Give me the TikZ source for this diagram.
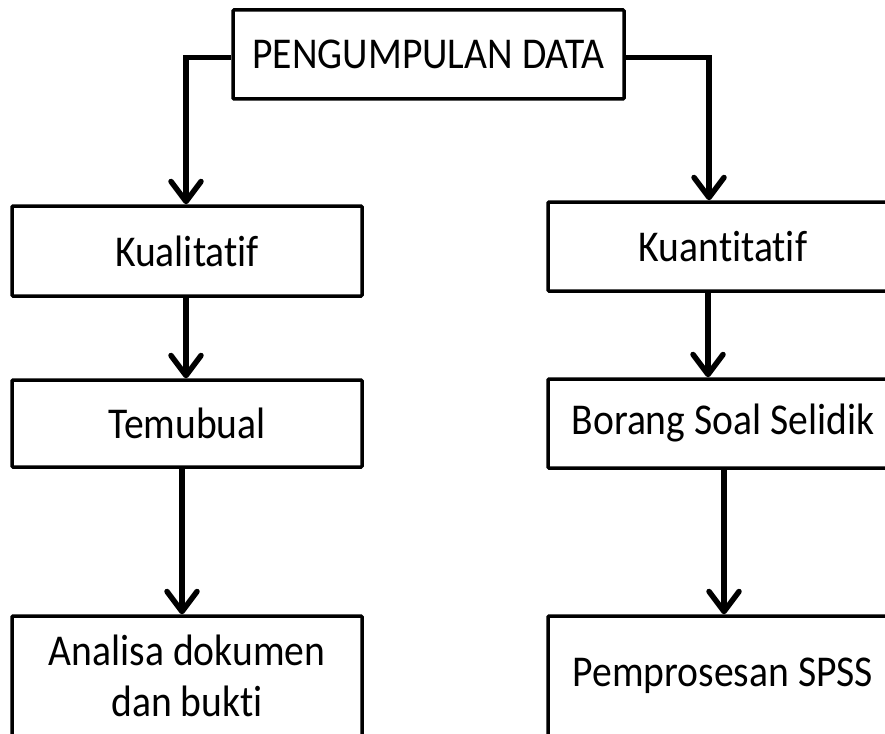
\documentclass[tikz,border=0pt]{standalone}
\usepackage{fontspec}
\setmainfont{Carlito}[Ligatures={NoCommon}, FakeStretch=0.9]
\usetikzlibrary{arrows.meta}
\begin{document}
\begin{tikzpicture}[x=1pt,y=-1pt,
  box/.style={draw=black, line width=3.5pt, fill=white, rounded corners=1pt,
    minimum width=350pt, align=center, font=\fontsize{44}{53}\selectfont, inner sep=0pt},
  arr/.style={draw=black, line width=5.5pt,
    -{Straight Barb[length=20pt,width=30pt,line width=5.5pt,line join=round,line cap=round]}}
]
\useasboundingbox (0,0) rectangle (885,733);
\clip (0,0) rectangle (885,733);
\fill[white] (0,0) rectangle (885,733);

\node[box, minimum width=391pt, minimum height=89pt] (top) at (428.5,54.5) {PENGUMPULAN DATA};

\node[box, minimum height=90pt] (kual) at (187,251) {Kualitatif};
\node[box, minimum height=87pt] (temu) at (187,423.5) {Temubual};
\node[box, minimum height=128pt] (anal) at (187,680) {\raisebox{3pt}{\begin{tabular}{@{}c@{}}Analisa dokumen\\[-2pt]dan bukti\end{tabular}}};

\node[box, minimum height=89pt] (kuan) at (723,246.5) {Kuantitatif};
\node[box, minimum height=89pt] (bora) at (723,423.5) {Borang Soal Selidik};
\node[box, minimum height=120pt] (pemp) at (723,676) {Pemprosesan SPSS};

\draw[arr] ([yshift=-3pt]top.west) -| ([xshift=-1pt]kual.north);
\draw[arr] ([yshift=-3pt]top.east) -| ([xshift=-14pt]kuan.north);
\draw[arr] ([xshift=-1pt]kual.south) -- ([xshift=-1pt]temu.north);
\draw[arr] ([xshift=-15pt]kuan.south) -- ([xshift=-15pt]bora.north);
\draw[arr] ([xshift=-5pt]temu.south) -- ([xshift=-5pt]anal.north);
\draw[arr] ([xshift=1pt]bora.south) -- ([xshift=1pt]pemp.north);
\end{tikzpicture}
\end{document}
